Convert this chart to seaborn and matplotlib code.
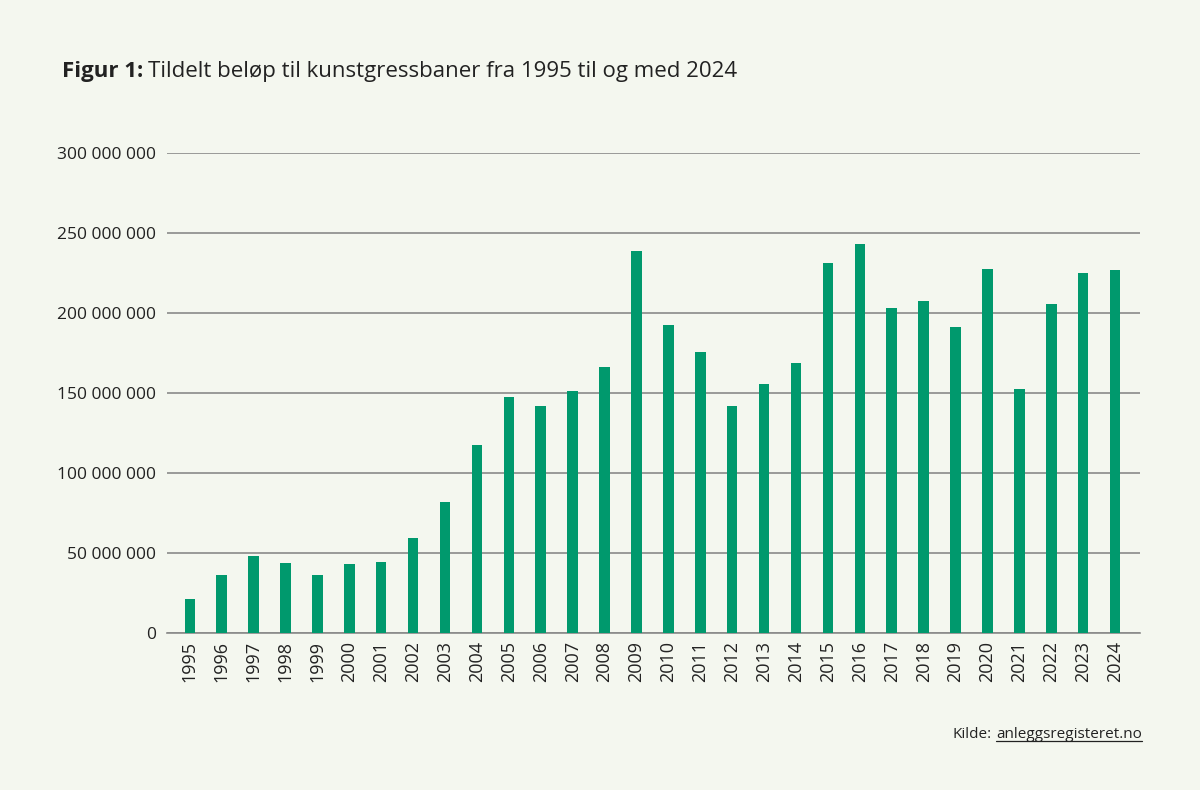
import seaborn as sns
import pandas as pd
import matplotlib.pyplot as plt
from matplotlib.lines import Line2D

# Data: tildelt beløp per år (kr)
years = [str(y) for y in range(1995, 2025)]
amounts = [21.5, 36.3, 48.0, 44.0, 36.0, 43.0, 44.6, 59.6, 82.0, 117.3,
           147.7, 141.7, 151.3, 166.3, 238.5, 192.8, 175.5, 141.9, 155.6, 168.5,
           231.0, 243.0, 203.3, 207.7, 191.3, 227.3, 152.5, 205.8, 225.0, 226.7]
amounts = [a * 1e6 for a in amounts]
yticks = [0, 50e6, 100e6, 150e6, 200e6, 250e6, 300e6]
ytick_labels = ["0", "50 000 000", "100 000 000", "150 000 000",
                "200 000 000", "250 000 000", "300 000 000"]

bg = "#f4f7ef"
green = "#00996d"
text_col = "#222222"

sns.set_style("white")
plt.rcParams['font.family'] = ['Open Sans', 'DejaVu Sans']

df = pd.DataFrame({"År": years, "Beløp": amounts})

fig = plt.figure(figsize=(12, 7.9), dpi=100, facecolor=bg)
ax = fig.add_axes([0.139, 0.1987, 0.811, 0.6076])
ax.set_facecolor(bg)

sns.barplot(data=df, x="År", y="Beløp", color=green, width=0.33,
            saturation=1, linewidth=0, ax=ax, zorder=3)

ax.set_ylim(0, 300e6)
ax.set_xlim(-0.72, 29.78)
ax.set_yticks(yticks)
ax.set_yticklabels(ytick_labels)
ax.yaxis.grid(True, color="#8a8a8a", linewidth=1.2, zorder=0)
ax.set_axisbelow(True)
for s in ["top", "right", "left"]:
    ax.spines[s].set_visible(False)
ax.spines["bottom"].set_color("#8a8a8a")
ax.spines["bottom"].set_linewidth(1.2)
ax.tick_params(axis="y", length=0, pad=8, labelsize=12.5, labelcolor=text_col)
ax.tick_params(axis="x", length=0, pad=6, labelsize=13, labelcolor=text_col,
               rotation=90)
ax.set_xlabel("")
ax.set_ylabel("")

# Tittel
t1 = fig.text(62 / 1200, 1 - 72 / 790, "Figur 1:", fontsize=16, fontweight="bold",
              color=text_col, va="center", ha="left")
fig.canvas.draw()
r = fig.canvas.get_renderer()
bb = t1.get_window_extent(r)
fig.text((bb.x1 + 5) / 1200, 1 - 72 / 790,
         "Tildelt beløp til kunstgressbaner fra 1995 til og med 2024",
         fontsize=16, color=text_col, va="center", ha="left")

# Kilde
src = fig.text(1142 / 1200, 1 - 735 / 790, "anleggsregisteret.no", fontsize=11,
               color=text_col, va="center", ha="right")
fig.canvas.draw()
sb = src.get_window_extent(r)
fig.text((sb.x0 - 4) / 1200, 1 - 735 / 790, "Kilde:", fontsize=11,
         color=text_col, va="center", ha="right")
uy = (sb.y0 + 2) / 790
fig.add_artist(Line2D([sb.x0 / 1200, sb.x1 / 1200], [uy, uy],
                      color=text_col, linewidth=0.9))

fig.savefig("out.png", dpi=100, facecolor=bg)
